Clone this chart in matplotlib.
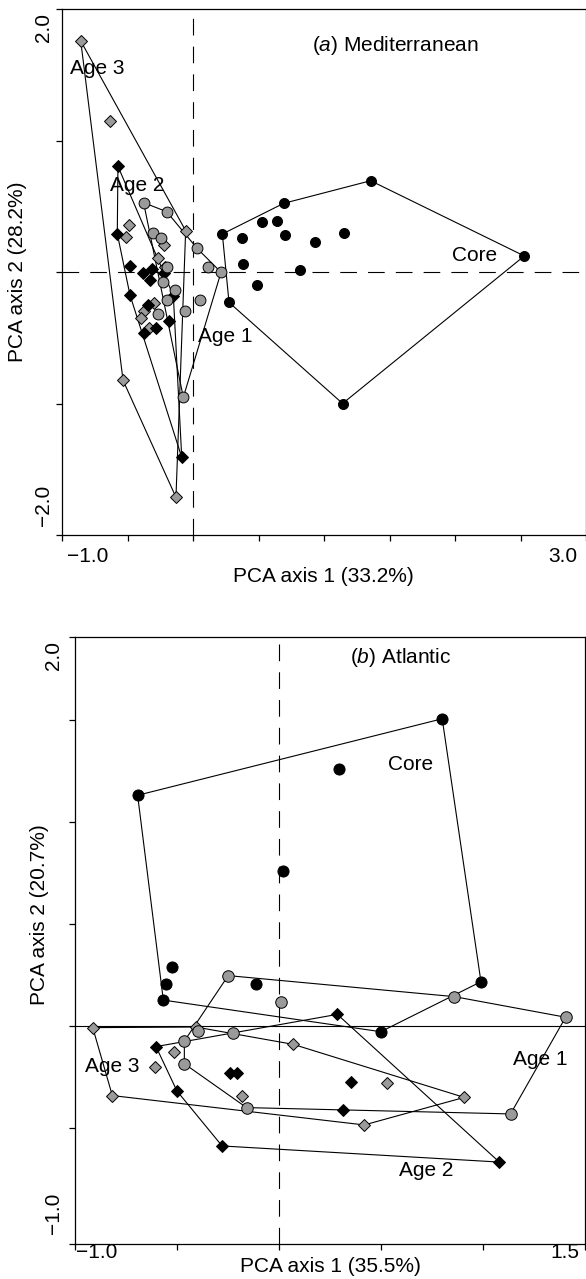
import numpy as np
import matplotlib
matplotlib.use("Agg")
import matplotlib.pyplot as plt

plt.rcParams['font.family'] = ['Liberation Sans', 'DejaVu Sans']
plt.rcParams['mathtext.fontset'] = 'custom'
plt.rcParams['mathtext.rm'] = 'Liberation Sans'
plt.rcParams['mathtext.it'] = 'Liberation Sans:italic'

# ---- panel (a) Mediterranean ----
a_core_x = [0.224, 0.692, 1.356, 2.529, 1.142, 0.275, 0.372, 0.527, 0.639, 0.705, 0.934, 1.155, 0.379, 0.817, 0.491]
a_core_y = [0.289, 0.522, 0.694, 0.122, -1.00, -0.231, 0.261, 0.380, 0.390, 0.281, 0.226, 0.297, 0.059, 0.015, -0.099]
a_core_hull = [0, 1, 2, 3, 4, 5]

a_age1_x = [-0.377, -0.201, 0.031, 0.214, -0.074, 0.115, -0.303, -0.244, -0.201, -0.227, -0.137, -0.201, 0.053, -0.061, -0.265]
a_age1_y = [0.527, 0.459, 0.180, -0.002, -0.953, 0.036, 0.294, 0.261, 0.040, -0.074, -0.137, -0.213, -0.213, -0.297, -0.322]
a_age1_hull = [0, 1, 2, 3, 4]

a_age2_x = [-0.573, -0.221, -0.150, -0.086, -0.481, -0.578, -0.481, -0.384, -0.310, -0.328, -0.341, -0.183, -0.372, -0.282]
a_age2_y = [0.804, -0.010, -0.183, -1.409, -0.175, 0.291, 0.048, -0.010, 0.020, -0.061, -0.251, -0.373, -0.461, -0.424]
a_age2_hull = [0, 1, 2, 3, 4, 5]

a_age3_x = [-0.857, -0.056, -0.130, -0.534, -0.631, -0.486, -0.509, -0.221, -0.270, -0.214, -0.295, -0.372, -0.397, -0.336]
a_age3_y = [1.757, 0.314, -1.713, -0.824, 1.150, 0.360, 0.266, 0.205, 0.109, 0.040, -0.238, -0.294, -0.347, -0.428]
a_age3_hull = [0, 1, 2, 3]

# ---- panel (b) Atlantic ----
b_core_x = [-0.693, 0.800, 0.990, 0.499, -0.567, 0.296, 0.021, -0.525, -0.552, -0.114]
b_core_y = [1.131, 1.506, 0.217, -0.028, 0.127, 1.258, 0.761, 0.291, 0.207, 0.204]
b_core_hull = [0, 1, 2, 3, 4]

b_age1_x = [-0.249, 0.859, 1.405, 1.135, -0.159, -0.464, -0.464, 0.010, -0.396, -0.227]
b_age1_y = [0.247, 0.144, 0.043, -0.431, -0.400, -0.185, -0.074, 0.119, -0.023, -0.036]
b_age1_hull = [0, 1, 2, 3, 4, 5, 6]

b_age2_x = [-0.603, 0.286, 1.080, -0.279, -0.500, -0.240, -0.204, 0.312, 0.351]
b_age2_y = [-0.101, 0.057, -0.667, -0.588, -0.319, -0.232, -0.229, -0.412, -0.273]
b_age2_hull = [0, 1, 2, 3, 4]

b_age3_x = [-0.913, -0.408, 0.070, 0.908, 0.418, -0.817, -0.513, -0.606, -0.180, 0.531]
b_age3_y = [-0.008, -0.005, -0.090, -0.350, -0.485, -0.341, -0.126, -0.203, -0.343, -0.278]
b_age3_hull = [0, 1, 2, 3, 4, 5]

GREY = '#9a9a9a'
FS = 15
W, H = 586, 1279
DASH = (0, (15, 10))


def fx(px):
    return px / W


def fy(py):
    return 1 - py / H


def draw_group(ax, xs, ys, hull, marker, face, ms):
    xs = np.array(xs)
    ys = np.array(ys)
    idx = list(hull) + [hull[0]]
    ax.plot(xs[idx], ys[idx], color='black', lw=0.8, zorder=2)
    ax.plot(xs, ys, ls='none', marker=marker, ms=ms, mfc=face,
            mec='black', mew=0.7, zorder=3)


def style_axes(ax):
    for s in ax.spines.values():
        s.set_linewidth(0.9)
    ax.tick_params(direction='out', length=4, width=0.9,
                   labelbottom=False, labelleft=False)


fig = plt.figure(figsize=(W / 100, H / 100), dpi=100)

# panel (a)
ax1 = fig.add_axes([fx(62), fy(535), fx(586) - fx(62), fy(9) - fy(535)])
ax1.set_xlim(-1, 3)
ax1.set_ylim(-2, 2)
ax1.set_xticks(np.arange(-1, 3.01, 0.5))
ax1.set_yticks([-2, -1, 0, 1, 2])
style_axes(ax1)
ax1.axhline(0, color='black', lw=0.8, ls=DASH, zorder=1)
ax1.axvline(0, color='black', lw=0.8, ls=DASH, zorder=1)

draw_group(ax1, a_core_x, a_core_y, a_core_hull, 'o', 'black', 7.2)
draw_group(ax1, a_age3_x, a_age3_y, a_age3_hull, 'D', GREY, 5.8)
draw_group(ax1, a_age2_x, a_age2_y, a_age2_hull, 'D', 'black', 5.8)
draw_group(ax1, a_age1_x, a_age1_y, a_age1_hull, 'o', GREY, 7.8)

ax1.text(-0.94, 1.55, 'Age 3', fontsize=FS, va='center', ha='left', zorder=4)
ax1.text(-0.634, 0.654, 'Age 2', fontsize=FS, va='center', ha='left', zorder=4)
ax1.text(0.038, -0.494, 'Age 1', fontsize=FS, va='center', ha='left', zorder=4)
ax1.text(1.977, 0.129, 'Core', fontsize=FS, va='center', ha='left', zorder=4)
ax1.text(0.908, 1.72, r'($\mathit{a}$) Mediterranean', fontsize=FS, va='center', ha='left')

fig.text(fx(323), fy(576), 'PCA axis 1 (33.2%)', fontsize=FS, ha='center', va='center')
fig.text(fx(18), fy(272), 'PCA axis 2 (28.2%)', fontsize=FS, ha='center', va='center', rotation=90)
fig.text(fx(88), fy(557), '\u22121.0', fontsize=FS, ha='center', va='center')
fig.text(fx(563), fy(557), '3.0', fontsize=FS, ha='center', va='center')
fig.text(fx(43), fy(27), '2.0', fontsize=FS, ha='center', va='center', rotation=90)
fig.text(fx(43), fy(505), '\u22122.0', fontsize=FS, ha='center', va='center', rotation=90)

# panel (b)
b_ylim = ((1026 - 1244) / 204, (1026 - 637) / 204)
ax2 = fig.add_axes([fx(75), fy(1244), fx(585) - fx(75), fy(637) - fy(1244)])
ax2.set_xlim(-1, 1.5)
ax2.set_ylim(*b_ylim)
ax2.set_xticks(np.arange(-1, 1.51, 0.5))
ax2.set_yticks([b_ylim[0], -0.5, 0, 0.5, 1.0, 1.5, b_ylim[1]])
style_axes(ax2)
ax2.axhline(0, color='black', lw=0.8, zorder=1)
ax2.axvline(0, color='black', lw=0.8, ls=DASH, zorder=1)

draw_group(ax2, b_core_x, b_core_y, b_core_hull, 'o', 'black', 8)
draw_group(ax2, b_age3_x, b_age3_y, b_age3_hull, 'D', GREY, 6.4)
draw_group(ax2, b_age2_x, b_age2_y, b_age2_hull, 'D', 'black', 6.2)
draw_group(ax2, b_age1_x, b_age1_y, b_age1_hull, 'o', GREY, 8.3)

ax2.text(-0.951, -0.2, 'Age 3', fontsize=FS, va='center', ha='left', zorder=4)
ax2.text(1.147, -0.162, 'Age 1', fontsize=FS, va='center', ha='left', zorder=4)
ax2.text(0.588, -0.709, 'Age 2', fontsize=FS, va='center', ha='left', zorder=4)
ax2.text(0.534, 1.284, 'Core', fontsize=FS, va='center', ha='left', zorder=4)
ax2.text(0.348, 1.804, r'($\mathit{b}$) Atlantic', fontsize=FS, va='center', ha='left')

fig.text(fx(330), fy(1267), 'PCA axis 1 (35.5%)', fontsize=FS, ha='center', va='center')
fig.text(fx(40), fy(915), 'PCA axis 2 (20.7%)', fontsize=FS, ha='center', va='center', rotation=90)
fig.text(fx(97), fy(1253), '\u22121.0', fontsize=FS, ha='center', va='center')
fig.text(fx(565), fy(1253), '1.5', fontsize=FS, ha='center', va='center')
fig.text(fx(53), fy(655), '2.0', fontsize=FS, ha='center', va='center', rotation=90)
fig.text(fx(53), fy(1213), '\u22121.0', fontsize=FS, ha='center', va='center', rotation=90)

fig.savefig('out.png', dpi=100)
